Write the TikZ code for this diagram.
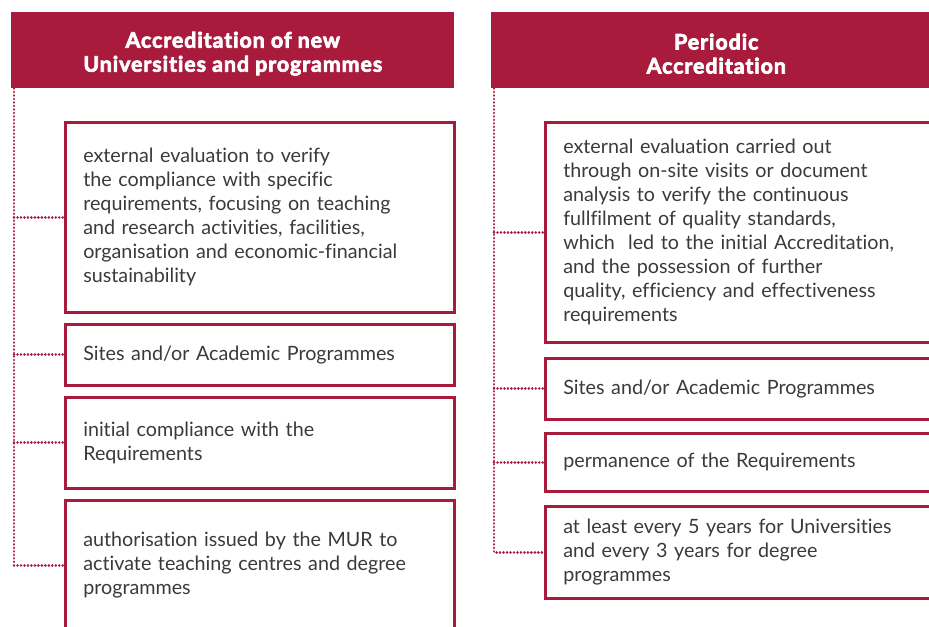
\documentclass[tikz,border=0pt]{standalone}
\usepackage{fontspec}
\setmainfont{Lato}[Ligatures={NoCommon}]
\newfontfamily\headfont{Lato}[Ligatures={NoCommon}, BoldFeatures={FakeBold=3.5}, LetterSpace=4.5]
\definecolor{murred}{RGB}{169,27,61}
\definecolor{bodygray}{RGB}{58,58,58}
\tikzset{
  header/.style={fill=murred, text=white, font=\headfont\bfseries\fontsize{16}{18}\selectfont, align=center, anchor=north west, minimum height=57pt, inner sep=0pt},
  itembox/.style={draw=murred, line width=1.9pt, text=bodygray, font=\fontsize{14.8}{18}\selectfont, align=left, anchor=north west, inner xsep=13.5pt, inner ysep=0pt},
  branch/.style={draw=murred, line width=2.1pt, dash pattern=on 0.01pt off 2.6pt, line cap=round}
}
\begin{document}
\begin{tikzpicture}[x=0.75pt,y=0.75pt,yscale=-1]
\useasboundingbox (0,0) rectangle (929,626);
\clip (0,0) rectangle (929,626);

% headers
\node [header, minimum width=332.25pt] (hdrL) at (11,12) {\rule{0pt}{3pt}\\[-4pt]Accreditation of new\\Universities and programmes};
\node [header, minimum width=337.5pt] (hdrR) at (491,12) {\rule{0pt}{3pt}\\[-4pt]Periodic\\Accreditation};

% left column
\node [itembox, text width=264.75pt, minimum height=142.5pt] (boxL1) at (64,121) {external evaluation to verify\\the compliance with specific\\requirements, focusing on teaching\\and research activities, facilities,\\organisation and economic-financial\\sustainability};
\node [itembox, text width=264.75pt, minimum height=45.75pt] (boxL2) at (64,323) {Sites and/or Academic Programmes};
\node [itembox, text width=264.75pt, minimum height=68.25pt] (boxL3) at (64,396) {initial compliance with the\\Requirements};
\node [itembox, text width=264.75pt, minimum height=97.5pt] (boxL4) at (64,499) {authorisation issued by the MUR to\\activate teaching centres and degree\\programmes};

% right column
\node [itembox, text width=273pt, minimum height=165pt] (boxR1) at (544,121) {external evaluation carried out\\through on-site visits or document\\analysis to verify the continuous\\fullfilment of quality standards,\\which\ \ led to the initial Accreditation,\\and the possession of further\\quality, efficiency and effectiveness\\requirements};
\node [itembox, text width=273pt, minimum height=45.75pt] (boxR2) at (544,357) {Sites and/or Academic Programmes};
\node [itembox, text width=273pt, minimum height=43.5pt] (boxR3) at (544,432) {permanence of the Requirements};
\node [itembox, text width=273pt, minimum height=69pt] (boxR4) at (544,505) {at least every 5 years for Universities\\and every 3 years for degree\\programmes};

% dotted connectors
\coordinate (spineL) at ([xshift=2.25pt]hdrL.south west);
\coordinate (spineR) at ([xshift=2.25pt]hdrR.south west);

\draw [branch] (spineL) |- (boxL4.west);
\draw [branch] (spineL |- boxL1.west) -- (boxL1.west);
\draw [branch] (spineL |- boxL2.west) -- (boxL2.west);
\draw [branch] (spineL |- boxL3.west) -- (boxL3.west);

\draw [branch] (spineR) |- (boxR4.west);
\draw [branch] (spineR |- boxR1.west) -- (boxR1.west);
\draw [branch] (spineR |- boxR2.west) -- (boxR2.west);
\draw [branch] (spineR |- boxR3.west) -- (boxR3.west);

\end{tikzpicture}
\end{document}
